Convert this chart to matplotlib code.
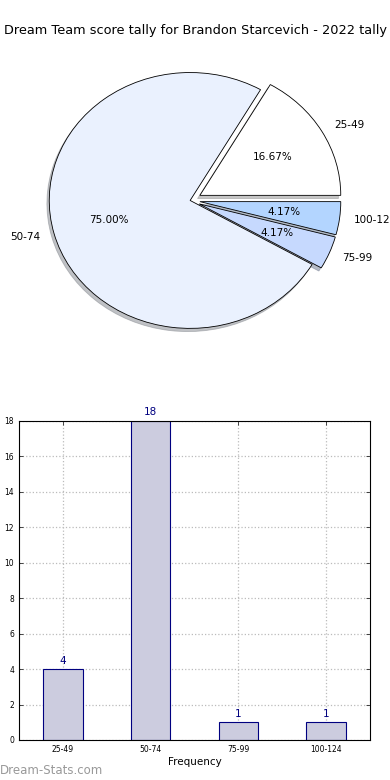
import matplotlib
matplotlib.use("Agg")
import matplotlib.pyplot as plt

# data
labels = ["25-49", "50-74", "75-99", "100-124"]
counts = [4, 18, 1, 1]
pie_colors = ["#ffffff", "#eaf1fe", "#c6d9fe", "#b3d5ff"]
explode = [0.08, 0, 0.07, 0.07]

title = "Dream Team score tally for Brandon Starcevich - 2022 tally"

fig = plt.figure(figsize=(3.9, 7.8), dpi=100)
fig.patch.set_facecolor("white")
fig.text(0.5, 0.961, title, ha="center", va="center", fontsize=9.3)

# pie (old style, not equal aspect)
ax1 = fig.add_axes([0.036, 0.538, 0.903, 0.410])
wedges, texts, autotexts = ax1.pie(counts, labels=labels, colors=pie_colors,
                                   explode=explode, autopct="%1.2f%%",
                                   shadow={"ox": -0.012, "oy": -0.018, "shade": 0.45},
                                   startangle=0,
                                   wedgeprops=dict(edgecolor="black", linewidth=0.6),
                                   textprops=dict(fontsize=7.5))
ax1.set_aspect("auto")
ax1.set_xlim(-1.25, 1.25)
ax1.set_ylim(-1.25, 1.25)
ax1.axis("off")

# bar chart
ax2 = fig.add_axes([0.0487, 0.0513, 0.9, 0.409])
x = range(len(labels))
bars = ax2.bar(x, counts, width=0.45, color="#ccccdf", edgecolor="#000080", linewidth=0.8, zorder=2)
for xi, c in zip(x, counts):
    ax2.text(xi, c + 0.2, str(c), ha="center", va="bottom", color="#000080", fontsize=7.5)
ax2.set_xlim(-0.5, 3.5)
ax2.set_ylim(0, 18)
ax2.set_yticks(range(0, 19, 2))
ax2.set_xticks(list(x))
ax2.set_xticklabels(labels)
ax2.tick_params(direction="in", top=True, right=True, labelsize=5.5, length=3, width=0.5)
ax2.grid(True, linestyle=":", color="#bbbbbb", linewidth=0.9, zorder=0)
for s in ax2.spines.values():
    s.set_linewidth(0.8)
ax2.set_xlabel("Frequency", fontsize=7.5, labelpad=2)
ax2.set_ylabel("Score Intervals", fontsize=7.5)
ax2.yaxis.set_label_coords(-0.06, 0.5)

fig.text(0.0, 0.012, "Dream-Stats.com", ha="left", va="center", fontsize=8.5, color="#999999")

fig.savefig("out.png", dpi=100)
